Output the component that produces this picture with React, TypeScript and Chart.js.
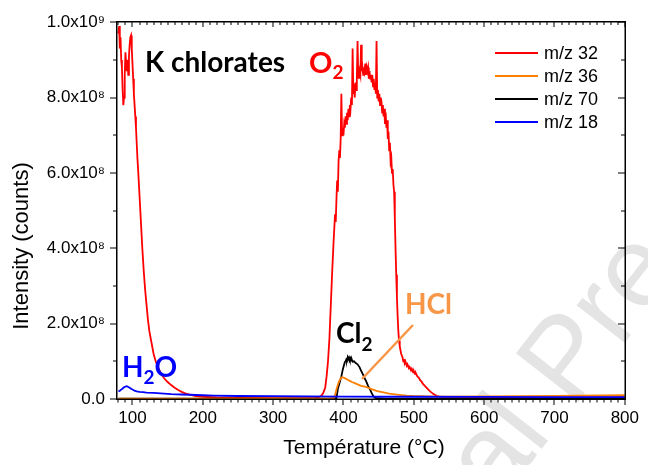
import React, { useEffect, useRef } from "react";
import { Chart, registerables } from "chart.js";

Chart.register(...registerables);

// ---------- data (intensity in units of 1e8 counts) ----------
const X_MIN = 78;
const X_MAX = 800;
const xTickValues = [100, 200, 300, 400, 500, 600, 700, 800];
const yTickValues = [0, 2, 4, 6, 8, 10];
const yTickLabels = ["0.0", "2.0x10⁸", "4.0x10⁸", "6.0x10⁸", "8.0x10⁸", "1.0x10⁹"];
const seriesLabels = ["m/z 32", "m/z 36", "m/z 70", "m/z 18"];
const seriesColors = ["#ff0000", "#ff8000", "#000000", "#0000ff"];

// m/z 32 (O2)
const mz32: [number, number][] = [
  [80, 9.7], [81, 9.9], [82, 9.3], [83, 9.6], [84, 9.0], [85, 8.8], [86, 8.2], [87, 7.8], [88, 8.0],
  [89, 8.6], [90, 9.2], [91, 8.9], [92, 8.7], [93, 9.0], [94, 8.6], [95, 9.1], [96, 9.4], [97, 9.6],
  [98, 9.65], [99, 9.3], [100, 8.9], [101, 8.5], [102, 8.1], [103, 7.8], [104, 7.5], [105, 7.2],
  [106, 6.8], [107, 6.4], [108, 6.1], [110, 5.4], [112, 4.7], [114, 4.0], [116, 3.4], [118, 2.9],
  [120, 2.5], [122, 2.1], [124, 1.8], [126, 1.6], [128, 1.4], [130, 1.2], [133, 1.0], [136, 0.85],
  [140, 0.7], [145, 0.55], [150, 0.45], [155, 0.37], [160, 0.3], [165, 0.24], [170, 0.19], [175, 0.15],
  [180, 0.12], [190, 0.08], [200, 0.06], [220, 0.04], [250, 0.03], [300, 0.02], [350, 0.02], [360, 0.03],
  [365, 0.05], [368, 0.08], [371, 0.15], [374, 0.3], [376, 0.6], [378, 1.0], [380, 1.6], [382, 2.5],
  [384, 3.4], [386, 4.2], [388, 4.9], [389, 4.7], [390, 5.3], [391, 5.8], [392, 5.5], [393, 6.3],
  [394, 6.6], [395, 6.4], [396, 6.9], [397, 8.1], [398, 7.0], [399, 7.2], [400, 7.0], [401, 7.3],
  [402, 7.2], [403, 7.5], [404, 7.3], [405, 7.6], [406, 7.4], [407, 7.7], [408, 7.5], [409, 7.8],
  [410, 7.7], [411, 8.0], [412, 7.8], [413, 9.3], [414, 8.1], [415, 8.2], [416, 8.0], [417, 8.4],
  [418, 8.2], [419, 8.5], [420, 9.5], [421, 8.6], [422, 8.5], [423, 8.7], [424, 8.6], [425, 9.4],
  [426, 8.7], [427, 8.8], [428, 8.6], [429, 8.8], [430, 8.7], [431, 8.9], [432, 8.6], [433, 8.8],
  [434, 8.7], [435, 8.8], [436, 8.5], [437, 8.7], [438, 8.5], [439, 8.6], [440, 8.4], [441, 8.6],
  [442, 8.3], [443, 8.5], [444, 8.2], [445, 8.4], [446, 8.1], [447, 9.5], [448, 8.0], [449, 8.2],
  [450, 7.9], [451, 8.1], [452, 7.8], [453, 8.0], [454, 7.9], [455, 7.6], [456, 7.8], [457, 7.5],
  [458, 7.7], [459, 7.3], [460, 7.6], [461, 7.2], [462, 7.4], [463, 6.9], [464, 7.1], [465, 6.6],
  [466, 6.8], [467, 6.3], [468, 6.4], [469, 6.0], [470, 6.1], [471, 5.7], [472, 5.5], [473, 4.8],
  [474, 4.0], [475, 3.3], [476, 2.7], [477, 2.2], [478, 1.8], [479, 1.55], [480, 1.4], [481, 1.3],
  [482, 1.2], [484, 1.1], [485, 1.0], [486, 1.06], [487, 0.95], [488, 1.0], [490, 0.88], [491, 0.92],
  [493, 0.82], [494, 0.85], [496, 0.76], [497, 0.8], [499, 0.71], [500, 0.74], [502, 0.66], [503, 0.68],
  [505, 0.6], [507, 0.57], [509, 0.5], [511, 0.46], [513, 0.4], [515, 0.36], [518, 0.3], [521, 0.24],
  [524, 0.19], [528, 0.13], [532, 0.09], [536, 0.06], [540, 0.05], [550, 0.04], [600, 0.04],
  [700, 0.04], [800, 0.05],
];

// m/z 36 (HCl)
const mz36: [number, number][] = [
  [80, 0.01], [380, 0.01], [386, 0.02], [388, 0.1], [390, 0.25], [392, 0.38], [394, 0.48], [396, 0.55],
  [398, 0.58], [400, 0.57], [403, 0.54], [406, 0.51], [409, 0.48], [412, 0.45], [416, 0.42], [420, 0.39],
  [425, 0.35], [432, 0.32], [440, 0.26], [448, 0.21], [455, 0.18], [465, 0.14], [479, 0.11], [490, 0.09],
  [500, 0.08], [520, 0.07], [550, 0.065], [600, 0.07], [700, 0.085], [800, 0.1],
];

// m/z 70 (Cl2)
const mz70: [number, number][] = [
  [80, 0.01], [380, 0.01], [390, 0.02], [392, 0.27], [394, 0.4], [397, 0.6], [399, 0.78], [400, 0.85],
  [402, 0.98], [403, 1.0], [404, 1.05], [405, 1.03], [406, 1.11], [407, 1.06], [408, 1.1], [409, 1.04],
  [410, 1.08], [411, 1.02], [412, 1.04], [413, 0.99], [415, 1.0], [417, 0.96], [420, 0.92], [423, 0.84],
  [425, 0.75], [428, 0.64], [430, 0.55], [432, 0.48], [435, 0.35], [438, 0.24], [440, 0.16], [442, 0.09],
  [444, 0.04], [447, 0.02], [460, 0.01], [800, 0.01],
];

// m/z 18 (H2O)
const mz18: [number, number][] = [
  [80, 0.2], [82, 0.22], [84, 0.25], [86, 0.28], [88, 0.31], [90, 0.33], [92, 0.34], [94, 0.32],
  [96, 0.3], [98, 0.27], [100, 0.25], [103, 0.22], [106, 0.2], [110, 0.19], [115, 0.18], [120, 0.17],
  [130, 0.16], [140, 0.15], [155, 0.13], [170, 0.12], [200, 0.1], [215, 0.09], [250, 0.08], [300, 0.075],
  [350, 0.07], [400, 0.065], [500, 0.06], [600, 0.055], [700, 0.05], [800, 0.05],
];

const seriesData = [mz32, mz36, mz70, mz18];
const drawOrder = [3, 1, 2, 0]; // lower = drawn on top

const TICK_FONT = "'Liberation Sans', Arial, sans-serif";
const ANN_FONT = "Lato, 'Open Sans', sans-serif";

function drawParts(
  ctx: CanvasRenderingContext2D,
  parts: [string, boolean][],
  x: number,
  baseline: number,
  size: number,
  subSize: number,
  subDrop: number,
  color: string
) {
  ctx.fillStyle = color;
  ctx.textAlign = "left";
  ctx.textBaseline = "alphabetic";
  let cx = x;
  for (const [txt, sub] of parts) {
    ctx.font = `bold ${sub ? subSize : size}px ${ANN_FONT}`;
    ctx.fillText(txt, cx, sub ? baseline + subDrop : baseline);
    cx += ctx.measureText(txt).width;
  }
}

function drawFrame(chart: any) {
  const ctx: CanvasRenderingContext2D = chart.ctx;
  const x = chart.scales.x;
  const y = chart.scales.y;
  const left = x.getPixelForValue(X_MIN);
  const right = x.getPixelForValue(X_MAX);
  const top = y.getPixelForValue(10);
  const bottom = y.getPixelForValue(0);

  ctx.save();
  ctx.globalAlpha = 1;
  ctx.setLineDash([]);
  ctx.strokeStyle = "#000000";
  ctx.fillStyle = "#000000";

  const L = Math.round(left);
  const R = Math.round(right);
  const T = Math.round(top);
  const B = Math.round(bottom);

  // frame as filled 1px-ish rectangles
  ctx.fillRect(L - 1, T - 1, R - L + 2, 1.5);
  ctx.fillRect(L - 1, B - 0.5, R - L + 2, 1.5);
  ctx.fillRect(L - 1, T - 1, 1.5, B - T + 2);
  ctx.fillRect(R - 0.5, T - 1, 1.5, B - T + 2);

  // x ticks (every 10, major every 100)
  for (let v = 80; v <= X_MAX; v += 10) {
    const px = Math.round(x.getPixelForValue(v));
    const major = v % 100 === 0;
    ctx.fillRect(px - 0.5, B, 1, major ? 6 : 3.5);
    ctx.fillRect(px - 0.5, T, 1, major ? 5 : 3);
  }
  // y ticks (every 1e8, major every 2e8)
  for (let v = 0; v <= 10; v += 1) {
    const py = Math.round(y.getPixelForValue(v));
    const l = v % 2 === 0 ? 7 : 4;
    ctx.fillRect(L - l, py - 0.5, l, 1);
    ctx.fillRect(R - l, py - 0.5, l, 1);
  }
  ctx.restore();
}

const decorPlugin = {
  id: "decor",
  beforeDraw(chart: any) {
    const ctx: CanvasRenderingContext2D = chart.ctx;
    // faint diagonal watermark
    ctx.save();
    const s = 115;
    ctx.font = `${s}px ${TICK_FONT}`;
    const wJ = ctx.measureText("Journa").width;
    const th = (-52 * Math.PI) / 180;
    const c = Math.cos(th);
    const sn = Math.sin(th);
    const uL = wJ + 0.11 * s;
    const vL = -0.716 * s;
    const ox = 480 - (uL * c - vL * sn);
    const oy = 394 - (uL * sn + vL * c);
    ctx.translate(ox, oy);
    ctx.rotate(th);
    ctx.fillStyle = "#e4e4e4";
    ctx.textAlign = "left";
    ctx.textBaseline = "alphabetic";
    ctx.fillText("Journal Pre-proof", 0, 0);
    ctx.restore();
  },
  afterDraw(chart: any) {
    const ctx: CanvasRenderingContext2D = chart.ctx;
    ctx.save();

    // axis titles
    ctx.fillStyle = "#000";
    ctx.font = `21px ${TICK_FONT}`;
    ctx.textAlign = "center";
    ctx.textBaseline = "alphabetic";
    ctx.fillText("Température (°C)", 364, 454);
    ctx.save();
    ctx.translate(22, 246);
    ctx.rotate(-Math.PI / 2);
    ctx.font = `22px ${TICK_FONT}`;
    ctx.textBaseline = "middle";
    ctx.fillText("Intensity (counts)", 0, 0);
    ctx.restore();

    // legend
    const rows = [53, 76, 99, 122];
    ctx.font = `18px ${TICK_FONT}`;
    ctx.textAlign = "left";
    ctx.textBaseline = "middle";
    seriesLabels.forEach((lab, i) => {
      ctx.strokeStyle = seriesColors[i];
      ctx.lineWidth = 2;
      ctx.beginPath();
      ctx.moveTo(495, rows[i]);
      ctx.lineTo(538, rows[i]);
      ctx.stroke();
      ctx.fillStyle = "#000";
      ctx.fillText(lab, 544, rows[i] + 1);
    });

    // annotations
    drawParts(ctx, [["K chlorates", false]], 145, 72, 28, 19, 6, "#000");
    drawParts(ctx, [["O", false], ["2", true]], 309, 73, 29, 19, 6, "#ff0000");
    drawParts(ctx, [["Cl", false], ["2", true]], 336, 343, 28, 19, 8, "#000");
    drawParts(ctx, [["HCl", false]], 405, 314, 28, 19, 6, "#f79646");
    drawParts(ctx, [["H", false], ["2", true], ["O", false]], 122, 377, 28, 19, 7, "#0000ff");

    // HCl leader line
    ctx.strokeStyle = "#f79646";
    ctx.lineWidth = 2.5;
    ctx.beginPath();
    ctx.moveTo(413, 325);
    ctx.lineTo(362, 379);
    ctx.stroke();
    ctx.restore();

    drawFrame(chart);
  },
};

export default function App() {
  const canvasRef = useRef<HTMLCanvasElement | null>(null);

  useEffect(() => {
    if (!canvasRef.current) return;
    const chart = new Chart(canvasRef.current, {
      type: "line",
      data: {
        datasets: seriesData.map((pts, i) => ({
          label: seriesLabels[i],
          data: pts.map(([t, v]) => ({ x: t, y: v })),
          borderColor: seriesColors[i],
          borderWidth: 1.8,
          pointRadius: 0,
          fill: false,
          tension: 0,
          order: drawOrder[i],
        })),
      },
      options: {
        responsive: false,
        animation: false,
        events: [],
        layout: { padding: { left: 0, right: 20, top: 22, bottom: 0 } },
        plugins: { legend: { display: false }, tooltip: { enabled: false }, title: { display: false } },
        scales: {
          x: {
            type: "linear",
            min: X_MIN,
            max: X_MAX,
            afterBuildTicks: (s: any) => {
              s.ticks = xTickValues.map((v) => ({ value: v }));
            },
            afterFit: (s: any) => {
              s.height = 66;
            },
            grid: { display: false, drawTicks: false },
            border: { display: false },
            ticks: {
              color: "#000",
              font: { family: TICK_FONT, size: 17 },
              padding: 9,
              maxRotation: 0,
              autoSkip: false,
              callback: (v: any) => String(v),
            },
          },
          y: {
            type: "linear",
            min: 0,
            max: 10,
            afterBuildTicks: (s: any) => {
              s.ticks = yTickValues.map((v) => ({ value: v }));
            },
            afterFit: (s: any) => {
              s.width = 117;
            },
            grid: { display: false, drawTicks: false },
            border: { display: false },
            ticks: {
              color: "#000",
              font: { family: TICK_FONT, size: 17 },
              padding: 12,
              autoSkip: false,
              callback: (v: any) => {
                const idx = yTickValues.indexOf(Number(v));
                return idx >= 0 ? yTickLabels[idx] : "";
              },
            },
          },
        },
      },
      plugins: [decorPlugin],
    });
    return () => chart.destroy();
  }, []);

  return (
    <div style={{ position: "fixed", left: 0, top: 0, width: 648, height: 465, background: "#fff" }}>
      <canvas ref={canvasRef} width={648} height={465} style={{ display: "block" }} />
    </div>
  );
}
